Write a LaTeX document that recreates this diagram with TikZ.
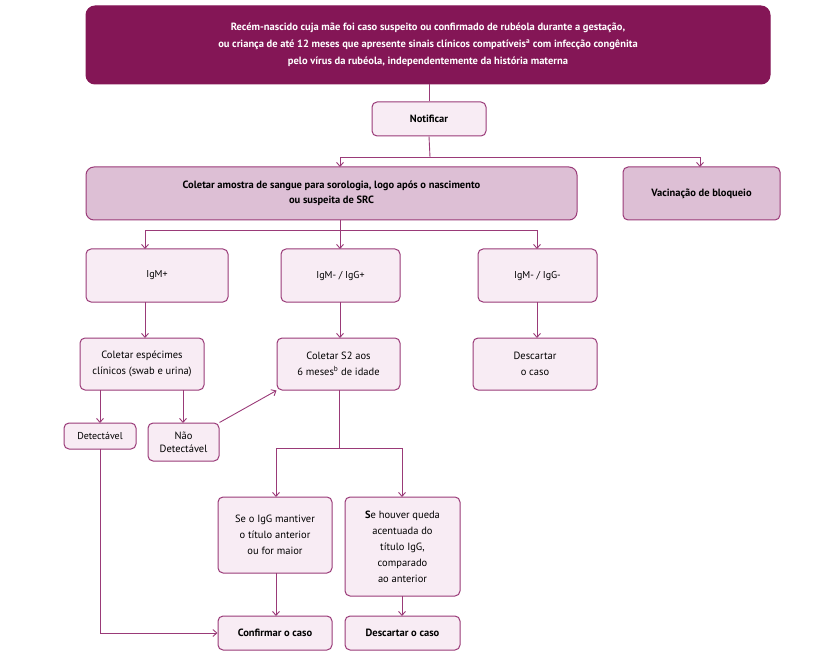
\documentclass[tikz,border=0pt]{standalone}
\usepackage{fontspec}
\setmainfont{PT Sans}
\usetikzlibrary{arrows.meta}
\definecolor{dark}{HTML}{841656}
\definecolor{edge}{HTML}{9A3A78}
\definecolor{light}{HTML}{F8ECF4}
\definecolor{mid}{HTML}{DDBFD5}
\begin{document}
\begin{tikzpicture}[x=1pt,y=-1pt,
 box/.style={draw=edge,line width=1pt,rounded corners=5pt,fill=light,align=center,inner sep=0pt,font=\fontsize{10.5}{13}\selectfont},
 ln/.style={edge,line width=0.9pt},
 ar/.style={ln,-{Straight Barb[length=4pt,width=7pt]}}]
\useasboundingbox (0,0) rectangle (840,668);
\newcommand\bx[6]{\node[box,#6,minimum width=#4-#2,minimum height=#5-#3] (#1) at ({(#2+#4)/2},{(#3+#5)/2}) {};}
\bx{top}{86}{6}{770}{84}{fill=dark,draw=dark,rounded corners=9pt}
\node[align=center,text=white,font=\bfseries\fontsize{10.5}{17}\selectfont] at (top) {Recém-nascido cuja mãe foi caso suspeito ou confirmado de rubéola durante a gestação,\\ou criança de até 12 meses que apresente sinais clínicos compatíveis\textsuperscript{a} com infecção congênita\\pelo vírus da rubéola, independentemente da história materna};
\bx{not}{372}{102}{486}{136}{font=\bfseries\fontsize{10.5}{13}\selectfont}
\node[font=\bfseries\fontsize{10.5}{13}\selectfont] at (not) {Notificar};
\bx{col}{86}{167}{577}{220}{fill=mid,rounded corners=8pt}
\node[align=center,font=\bfseries\fontsize{10.5}{15}\selectfont] at (col) {Coletar amostra de sangue para sorologia, logo após o nascimento\\ou suspeita de SRC};
\bx{vac}{623}{167}{780}{220}{fill=mid}
\node[font=\bfseries\fontsize{10.5}{13}\selectfont] at (vac) {Vacinação de bloqueio};
\bx{igm}{86}{249}{228}{302}{}\node at (igm) {IgM+};
\bx{igg}{281}{249}{400}{302}{}\node at (igg) {IgM- / IgG+};
\bx{ign}{478}{249}{597}{302}{}\node at (ign) {IgM- / IgG-};
\bx{esp}{80}{338}{204}{390}{}\node[align=center,font=\fontsize{10.5}{16}\selectfont] at (esp) {Coletar espécimes\\clínicos (swab e urina)};
\bx{s2}{277}{338}{400}{390}{}\node[align=center,font=\fontsize{10.5}{16}\selectfont] at (s2) {Coletar S2 aos\\6 meses\textsuperscript{b} de idade};
\bx{des1}{473}{338}{597}{390}{}\node[align=center,font=\fontsize{10.5}{16}\selectfont] at (des1) {Descartar\\o caso};
\bx{det}{64}{423}{136}{449}{}\node at (det) {Detectável};
\bx{nao}{148}{423}{219}{461}{}\node[align=center,font=\fontsize{10.5}{13}\selectfont] at (nao) {Não\\Detectável};
\bx{sei}{218}{497}{332}{573}{}\node[align=center,font=\fontsize{10.5}{16}\selectfont] at (sei) {Se o IgG mantiver\\o título anterior\\ou for maior};
\bx{seh}{345}{497}{460}{596}{}\node[align=center,font=\fontsize{10.5}{16}\selectfont] at (seh) {\textbf{S}e houver queda\\acentuada do\\título IgG,\\comparado\\ao anterior};
\bx{conf}{218}{616}{332}{650}{}\node[font=\bfseries\fontsize{10.5}{13}\selectfont] at (conf) {Confirmar o caso};
\bx{des2}{345}{616}{460}{650}{}\node[font=\bfseries\fontsize{10.5}{13}\selectfont] at (des2) {Descartar o caso};
\coordinate (j1) at (430,157);
\coordinate (j2) at (340,230);
\coordinate (j3) at (339,448);
\draw[ln] (top.south -| not) -- (not.north);
\draw[ln] (not.south) -- (j1);
\draw[ar] (j1) -| (340,167);
\draw[ar] (j1) -| (700,167);
\draw[ln] (340,220) -- (j2);
\draw[ar] (j2) -| (145,249);
\draw[ar] (j2) -- (340,249);
\draw[ar] (j2) -| (537,249);
\draw[ar] (145,302) -- (145,338);
\draw[ar] (340,302) -- (340,338);
\draw[ar] (537,302) -- (537,338);
\draw[ar] (100,390) -- (100,423);
\draw[ar] (183,390) -- (183,423);
\draw[ar] (nao.north east) -- (s2.south west);
\draw[ln] (339,390) -- (j3);
\draw[ar] (j3) -| (276,497);
\draw[ar] (j3) -| (402,497);
\draw[ar] (276,573) -- (276,616);
\draw[ar] (402,596) -- (402,616);
\draw[ar] (100,449) |- (conf.west);
\end{tikzpicture}
\end{document}
